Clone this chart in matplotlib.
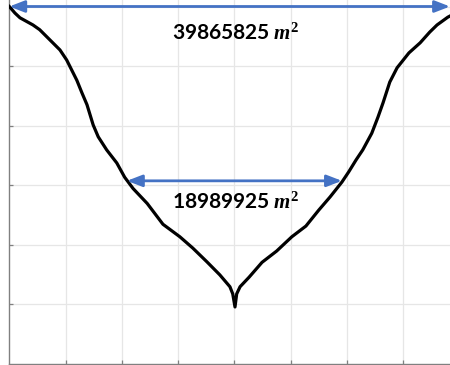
import matplotlib
matplotlib.use("Agg")
import matplotlib.pyplot as plt
import numpy as np

plt.rcParams['mathtext.fontset'] = 'custom'
plt.rcParams['mathtext.it'] = 'Liberation Serif:italic:bold'
plt.rcParams['mathtext.rm'] = 'Liberation Serif:bold'

# --- profile (x in grid units, depth in grid units) ---
left_x = [0.00, 0.10, 0.19, 0.42, 0.54, 0.72, 0.90, 1.02, 1.11, 1.20, 1.29,
          1.38, 1.49, 1.58, 1.73, 1.91, 2.05, 2.20, 2.45, 2.73, 3.03, 3.26,
          3.51, 3.74, 3.92, 3.97, 4.01]
left_y = [6.00, 5.89, 5.81, 5.69, 5.61, 5.44, 5.27, 5.10, 4.93, 4.76, 4.55,
          4.35, 4.01, 3.81, 3.59, 3.37, 3.13, 2.94, 2.69, 2.34, 2.13, 1.94,
          1.71, 1.49, 1.29, 1.17, 0.95]
right_x = [4.04, 4.10, 4.26, 4.49, 4.75, 5.02, 5.27, 5.50, 5.70, 5.91, 6.03,
           6.16, 6.28, 6.44, 6.55, 6.64, 6.76, 6.89, 7.10, 7.30, 7.47, 7.60,
           7.79, 7.87]
right_y = [1.17, 1.29, 1.45, 1.70, 1.89, 2.13, 2.31, 2.58, 2.80, 3.05, 3.22,
           3.42, 3.59, 3.87, 4.14, 4.38, 4.73, 4.97, 5.22, 5.39, 5.57, 5.69,
           5.82, 5.86]

# widths (annotations)
top_level = 6.0
top_span = (0.0, 7.83)
top_label = "39865825 $m^2$"
mid_level = 3.07
mid_span = (2.09, 5.91)
mid_label = "18989925 $m^2$"

x = left_x + right_x
y = left_y + right_y

fig = plt.figure(figsize=(4.5, 3.65), dpi=100)
ax = fig.add_axes([9.3 / 450, 1.5 / 365, 1 - 9.3 / 450, 363.5 / 365])

ax.plot(x, y, color='black', lw=2.3, solid_joinstyle='round', zorder=3)

blue = '#4472C4'
for lvl, (a, b) in [(top_level, top_span), (mid_level, mid_span)]:
    ax.annotate('', xy=(a, lvl), xytext=(b, lvl),
                arrowprops=dict(arrowstyle='<|-|>,head_length=0.7,head_width=0.27',
                                color=blue, lw=2.0,
                                mutation_scale=13, shrinkA=0, shrinkB=0),
                zorder=4)

ax.text(4.03, 5.55, top_label, ha='center', va='center', fontsize=15,
        fontweight='bold', family='Lato', color='black')
ax.text(4.03, 2.71, mid_label, ha='center', va='center', fontsize=15,
        fontweight='bold', family='Lato', color='black')

ax.set_xlim(0, 7.83)
ax.set_ylim(0, 363.5 / 59.5)
ax.set_xticks(np.arange(1, 8))
ax.set_yticks(np.arange(1, 7))
ax.set_xticklabels([])
ax.set_yticklabels([])
ax.grid(True, color='#e6e6e6', lw=0.9)
ax.set_axisbelow(True)
ax.tick_params(direction='in', length=3, width=0.9, color='#808080')
for s in ['top', 'right']:
    ax.spines[s].set_visible(False)
for s in ['left', 'bottom']:
    ax.spines[s].set_color('#808080')
    ax.spines[s].set_linewidth(1.0)

fig.savefig('out.png', dpi=100)
